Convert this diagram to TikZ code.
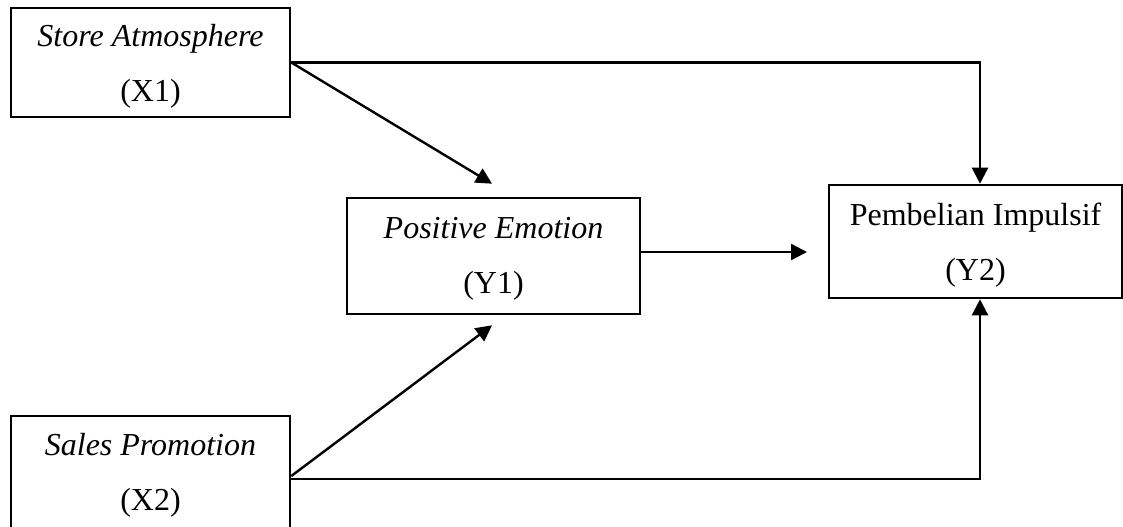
\documentclass[tikz,border=0pt]{standalone}
\usepackage{fontspec}
\setmainfont{Liberation Serif}
\usetikzlibrary{arrows.meta,calc}
\begin{document}
\begin{tikzpicture}[x=0.5pt,y=-0.5pt,
  box/.style={draw, line width=1.3pt, align=center, inner sep=0pt,
    font=\fontsize{16}{27.5}\selectfont},
  link/.style={line width=1.2pt, -{Triangle[length=8pt,width=8pt]}}]
\useasboundingbox (0,0) rectangle (1123,526);
\node[box, minimum width=139.5pt, minimum height=54.5pt] (X1) at (150.5,62.5)
  {\rule{0pt}{15pt}\textit{Store Atmosphere}\\(X1)};
\node[box, minimum width=139.5pt, minimum height=59pt] (X2) at (150.5,475)
  {\rule{0pt}{11pt}\textit{Sales Promotion}\\(X2)};
\node[box, minimum width=146.5pt, minimum height=58pt] (Y1) at (493.5,256)
  {\rule{0pt}{13pt}\textit{Positive Emotion}\\(Y1)};
\node[box, minimum width=146.5pt, minimum height=56.5pt] (Y2) at (975.5,241.5)
  {\rule{0pt}{14.5pt}Pembelian Impulsif\\(Y2)};
\coordinate (k1) at (980,62.5);
\coordinate (t1) at ($(Y1.north)+(-1.5,-13)$);
\coordinate (t2) at ($(Y1.south)+(-1.5,10)$);
\coordinate (k2) at (980,479);
\coordinate (t3) at (807,252);
\draw[link] (X1.east) -- (k1) -- (k1 |- Y2.north);
\draw[link] (X1.east) -- (t1);
\draw[link] ($(X2.east)+(0,1)$) -- (t2);
\draw[link] ($(X2.east)+(0,4)$) -- (k2) -- (k2 |- Y2.south);
\draw[link] (Y1.east |- t3) -- (t3);
\end{tikzpicture}
\end{document}
